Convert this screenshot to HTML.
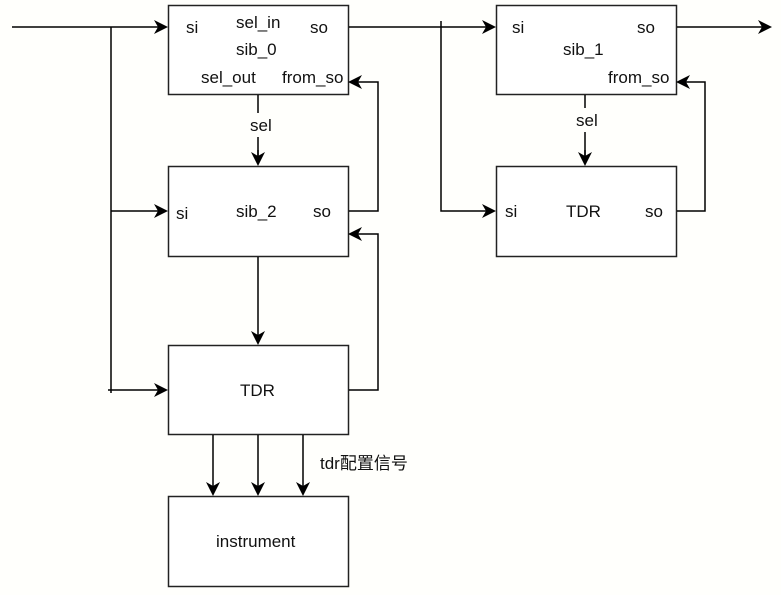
<!DOCTYPE html>
<html><head><meta charset="utf-8"><style>
html,body{margin:0;padding:0;background:#fffffc;}
svg{display:block;}
text{font-family:"Liberation Sans","Noto Sans CJK SC",sans-serif;font-size:17px;fill:#111;}
</style></head><body>
<svg width="781" height="595" viewBox="0 0 781 595" xmlns="http://www.w3.org/2000/svg">
<defs>
<marker id="a" markerWidth="14" markerHeight="14" refX="12" refY="7" orient="auto" markerUnits="userSpaceOnUse">
<path d="M0,0 L14,7 L0,14 L4,7 Z" fill="#000"/>
</marker>
</defs>
<g fill="#fff" stroke="#222" stroke-width="1.5">
<rect x="168.5" y="5.5" width="180" height="89"/>
<rect x="168.5" y="166.5" width="180" height="90"/>
<rect x="168.5" y="345.5" width="180" height="89"/>
<rect x="168.5" y="496.5" width="180" height="90"/>
<rect x="496.5" y="5.5" width="180" height="89"/>
<rect x="496.5" y="166.5" width="180" height="90"/>
</g>
<g fill="none" stroke="#000" stroke-width="1.5">
<path d="M12,27 H166" marker-end="url(#a)"/>
<path d="M111,27 V393"/>
<path d="M111,211 H166" marker-end="url(#a)"/>
<path d="M108,390 H166" marker-end="url(#a)"/>
<path d="M349,27 H494" marker-end="url(#a)"/>
<path d="M441,21 V211 H494" marker-end="url(#a)"/>
<path d="M677,27 H770" marker-end="url(#a)"/>
<path d="M349,211 H378 V82 H350" marker-end="url(#a)"/>
<path d="M349,390 H378 V234 H350" marker-end="url(#a)"/>
<path d="M677,211 H705 V82 H678" marker-end="url(#a)"/>
<path d="M258,95 V113 M258,137 V164" />
<path d="M258,150 V164" marker-end="url(#a)"/>
<path d="M585,95 V108 M585,132 V164"/>
<path d="M585,150 V164" marker-end="url(#a)"/>
<path d="M258,257 V343" marker-end="url(#a)"/>
<path d="M213,435 V494" marker-end="url(#a)"/>
<path d="M258,435 V494" marker-end="url(#a)"/>
<path d="M303,435 V494" marker-end="url(#a)"/>
</g>
<text x="186" y="33">si</text>
<text x="236" y="28">sel_in</text>
<text x="310" y="33">so</text>
<text x="236" y="55">sib_0</text>
<text x="201" y="83">sel_out</text>
<text x="282" y="83">from_so</text>
<text x="250" y="131">sel</text>
<text x="176" y="219">si</text>
<text x="236" y="217">sib_2</text>
<text x="313" y="217">so</text>
<text x="240" y="396">TDR</text>
<text x="216" y="547">instrument</text>
<text x="320" y="469">tdr配置信号</text>
<text x="512" y="33">si</text>
<text x="637" y="33">so</text>
<text x="563" y="55">sib_1</text>
<text x="608" y="83">from_so</text>
<text x="576" y="126">sel</text>
<text x="505" y="217">si</text>
<text x="566" y="217">TDR</text>
<text x="645" y="217">so</text>
</svg>
</body></html>
